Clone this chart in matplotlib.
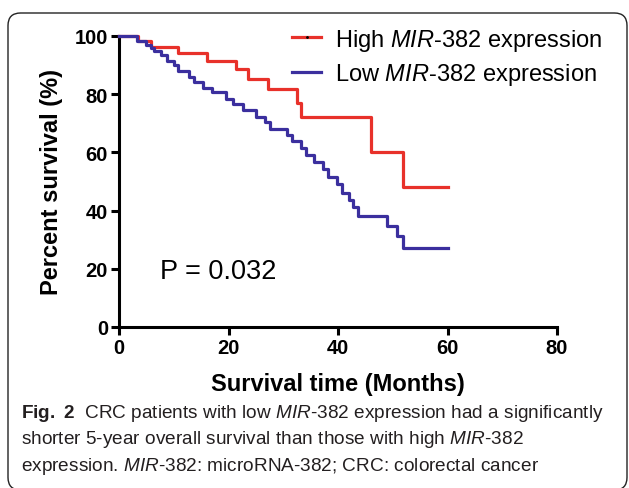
import numpy as np
import matplotlib
matplotlib.use('Agg')
import matplotlib.pyplot as plt
from matplotlib.patches import FancyBboxPatch
from matplotlib.lines import Line2D

plt.rcParams['font.family'] = ['Liberation Sans', 'DejaVu Sans']
plt.rcParams['mathtext.fontset'] = 'custom'
plt.rcParams['mathtext.rm'] = 'Liberation Sans'
plt.rcParams['mathtext.it'] = 'Liberation Sans:italic'
plt.rcParams['mathtext.bf'] = 'Liberation Sans:bold'

# Kaplan-Meier steps (months, % survival)
high_t = [0, 3.5, 5.8, 10.8, 16.0, 21.3, 23.5, 27.2, 32.6, 33.3, 46.1, 51.8, 60]
high_s = [100, 98.2, 96.2, 94.2, 91.4, 88.6, 85.3, 81.7, 76.9, 72.2, 60.2, 48.0, 48.0]

low_t = [0, 3.2, 5.0, 5.8, 6.4, 7.7, 8.7, 10.1, 10.8, 12.7, 13.7, 15.3, 17.0,
         19.5, 20.8, 22.7, 25.0, 26.6, 27.5, 30.7, 31.6, 33.2, 34.1, 35.6,
         37.3, 38.2, 39.8, 40.7, 42.1, 42.7, 43.6, 48.9, 50.7, 51.8, 60]
low_s = [100, 98.2, 96.8, 95.9, 94.7, 93.4, 91.3, 89.9, 87.9, 86.0, 84.2, 82.3, 80.6,
         78.5, 76.8, 74.5, 72.2, 70.5, 68.2, 66.0, 63.8, 61.6, 59.1, 56.8,
         54.2, 51.7, 49.0, 46.2, 43.7, 41.4, 38.0, 34.6, 31.2, 27.2, 27.2]

labels = [r'High $\mathit{MIR}$-$\mathit{382}$ expression',
          r'Low $\mathit{MIR}$-$\mathit{382}$ expression']
xticks = [0, 20, 40, 60, 80]
yticks = [0, 20, 40, 60, 80, 100]
p_text = 'P = 0.032'

red = '#e8312a'
blue = '#3b2f9e'

fig = plt.figure(figsize=(6.29, 4.89), dpi=100)
ax = fig.add_axes([119/629, 1-328/489, 438/629, 291/489])

ax.step(high_t, high_s, where='post', color=red, lw=2.3, clip_on=False, zorder=3)
ax.step(low_t, low_s, where='post', color=blue, lw=2.3, clip_on=False, zorder=3)

ax.set_xlim(0, 80)
ax.set_ylim(0, 100)
ax.set_xticks(xticks)
ax.set_yticks(yticks)
for s in ['top', 'right']:
    ax.spines[s].set_visible(False)
for s in ['left', 'bottom']:
    ax.spines[s].set_linewidth(2.2)
ax.tick_params(width=2.2, length=6, direction='out', labelsize=14.5, pad=2)
for lab in ax.get_xticklabels() + ax.get_yticklabels():
    lab.set_fontweight('bold')

ax.set_xlabel('Survival time (Months)', fontsize=17, fontweight='bold')
ax.set_ylabel('Percent survival (%)', fontsize=17, fontweight='bold')
ax.yaxis.set_label_coords(-0.128, 0.5)
ax.xaxis.set_label_coords(0.5, -0.155)

ax.text(7.5, 19.2, p_text, fontsize=19.5, va='center', ha='left')

handles = [Line2D([], [], color=red, lw=2.3, marker='.', markersize=2,
                  markerfacecolor='k', markeredgecolor='k'),
           Line2D([], [], color=blue, lw=2.3)]
ax.legend(handles, labels, loc='upper left', bbox_to_anchor=(0.373, 1.065),
          frameon=False, fontsize=17, handlelength=1.25, handletextpad=0.6,
          labelspacing=0.35, borderaxespad=0)

frame = FancyBboxPatch((8/629, -2/489), 619/629, 477/489,
                       boxstyle='round,pad=0,rounding_size=0.02',
                       transform=fig.transFigure, fill=False, lw=1.0,
                       edgecolor='#222222', mutation_aspect=629/489)
fig.patches.append(frame)

cap = [r'$\mathbf{Fig.\ 2}$  CRC patients with low $\mathit{MIR}$-$\mathit{382}$ expression had a significantly',
       r'shorter 5-year overall survival than those with high $\mathit{MIR}$-$\mathit{382}$',
       r'expression. $\mathit{MIR}$-$\mathit{382}$: microRNA-382; CRC: colorectal cancer']
for i, line in enumerate(cap):
    fig.text(21/629, 1-(413+27*i)/489, line, fontsize=13.7, va='center', ha='left',
             color='#231f20')

fig.savefig('out.png', dpi=100)
